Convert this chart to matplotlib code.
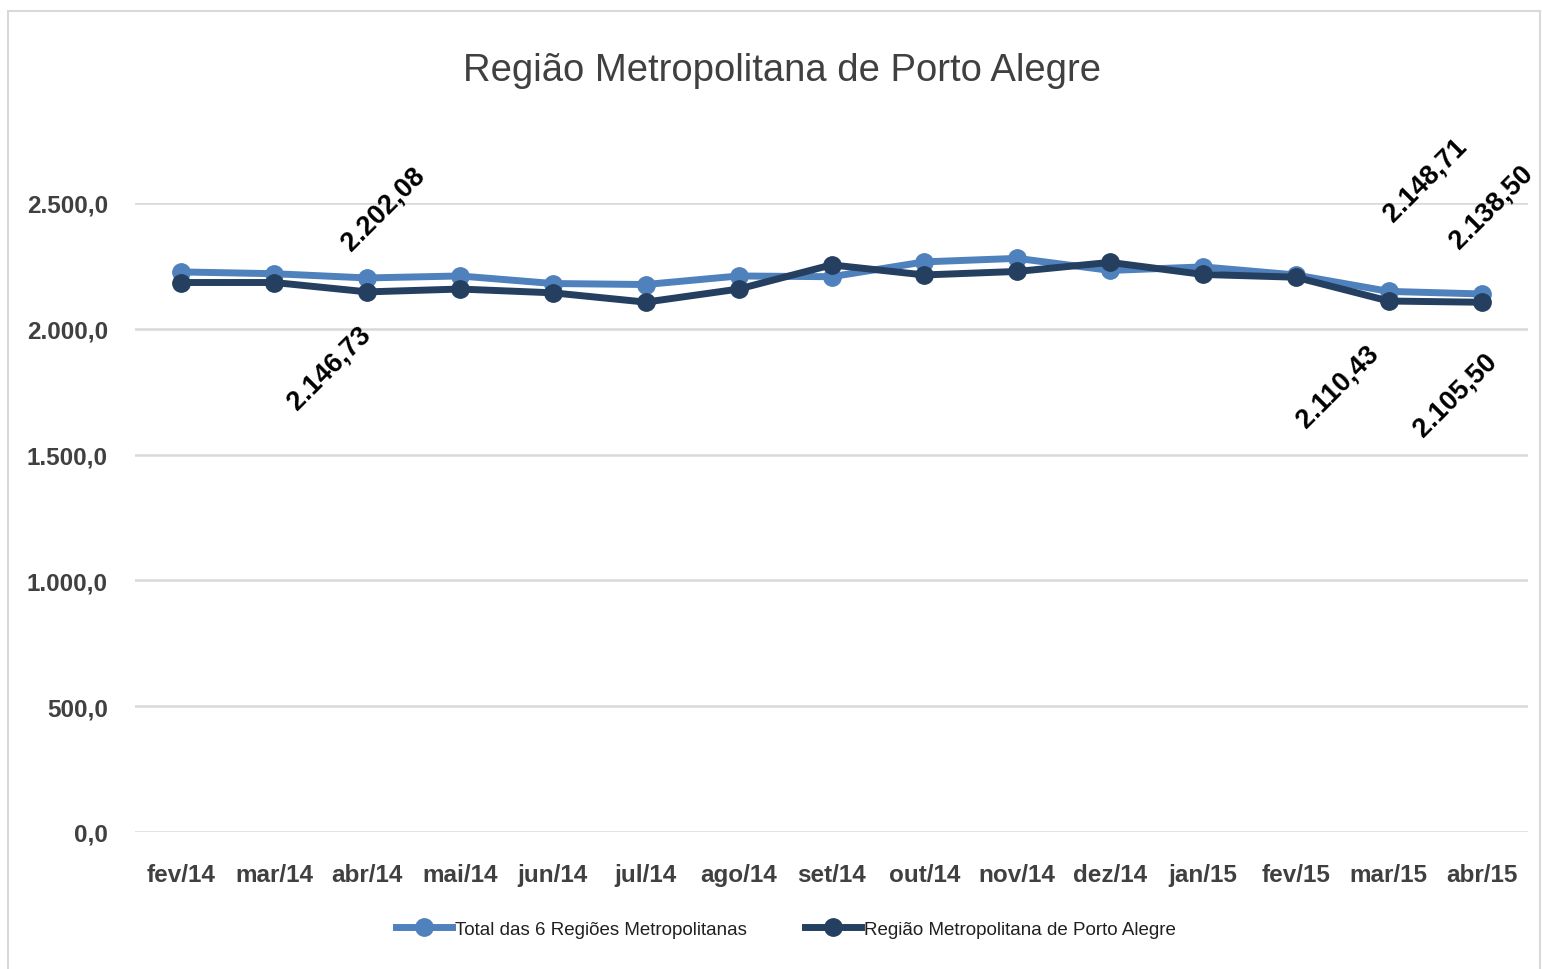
import matplotlib
matplotlib.use("Agg")
import matplotlib.pyplot as plt
from matplotlib.patches import Rectangle

months = ["fev/14", "mar/14", "abr/14", "mai/14", "jun/14", "jul/14", "ago/14",
          "set/14", "out/14", "nov/14", "dez/14", "jan/15", "fev/15", "mar/15", "abr/15"]
total_6rm = [2226, 2219, 2202.08, 2210, 2180, 2176, 2210,
             2207, 2266, 2280, 2232, 2246, 2214, 2148.71, 2138.50]
porto_alegre = [2184, 2184, 2146.73, 2158, 2143, 2106, 2158,
                2254, 2214, 2228, 2264, 2216, 2205, 2110.43, 2105.50]
series_names = ["Total das 6 Regiões Metropolitanas", "Região Metropolitana de Porto Alegre"]
yticks = [0, 500, 1000, 1500, 2000, 2500]
ytick_labels = ["0,0", "500,0", "1.000,0", "1.500,0", "2.000,0", "2.500,0"]
title = "Região Metropolitana de Porto Alegre"

# labelled points: (series index, month index, text, offset px)
labels = [
    (0, 2, "2.202,08", (16, 70)),
    (1, 2, "2.146,73", (-38, -76)),
    (0, 13, "2.148,71", (37, 112)),
    (0, 14, "2.138,50", (10, 88)),
    (1, 13, "2.110,43", (-51, -85)),
    (1, 14, "2.105,50", (-26, -92)),
]

plt.rcParams['font.family'] = ['Liberation Sans', 'DejaVu Sans']

W, H = 1542, 970
fig = plt.figure(figsize=(W / 100, H / 100), dpi=100)
fig.patch.set_facecolor("white")
fig.patches.append(Rectangle((8 / W, -0.05), (1540 - 8) / W, 1 - 12 / H + 0.05,
                             transform=fig.transFigure, fill=False,
                             edgecolor="#D9D9D9", linewidth=1.5))

ax = fig.add_axes([135 / W, 1 - 833 / H, (1528 - 135) / W, (833 - 204) / H])
x = list(range(len(months)))
light = "#4F81BD"
dark = "#243F60"
ax.plot(x, total_6rm, color=light, lw=5, marker="o", ms=12.5, label=series_names[0], zorder=3)
ax.plot(x, porto_alegre, color=dark, lw=5, marker="o", ms=12.5, label=series_names[1], zorder=4)

ax.set_xlim(-0.5, len(months) - 0.5)
ax.set_ylim(0, 2500)
ax.set_yticks(yticks)
ax.set_yticklabels(ytick_labels)
ax.set_xticks(x)
ax.set_xticklabels(months)
for s in ax.spines.values():
    s.set_visible(False)
ax.grid(axis="y", color="#D9D9D9", linewidth=1.8)
ax.set_axisbelow(True)
ax.tick_params(axis="both", length=0, labelsize=17.5, labelcolor="#404040")
ax.tick_params(axis="x", pad=22)
ax.tick_params(axis="y", pad=19.5)
for t in ax.get_xticklabels() + ax.get_yticklabels():
    t.set_fontweight("bold")

data = [total_6rm, porto_alegre]
for si, mi, txt, (dx, dy) in labels:
    ax.annotate(txt, (mi, data[si][mi]), xytext=(dx, dy), textcoords="offset pixels",
                rotation=45, ha="center", va="center", fontsize=19.5,
                fontweight="bold", color="black", annotation_clip=False, zorder=5)

fig.text(782 / W, 1 - 71 / H, title, ha="center", va="center", fontsize=27.5, color="#404040")

leg = fig.legend(loc="center", bbox_to_anchor=(786 / W, 1 - 930 / H), ncol=2, frameon=False,
                 fontsize=13.5, handlelength=3.0, columnspacing=3.1, handletextpad=0.15)
for t in leg.get_texts():
    t.set_color("#202020")

fig.savefig("out.png", dpi=100, facecolor="white")
